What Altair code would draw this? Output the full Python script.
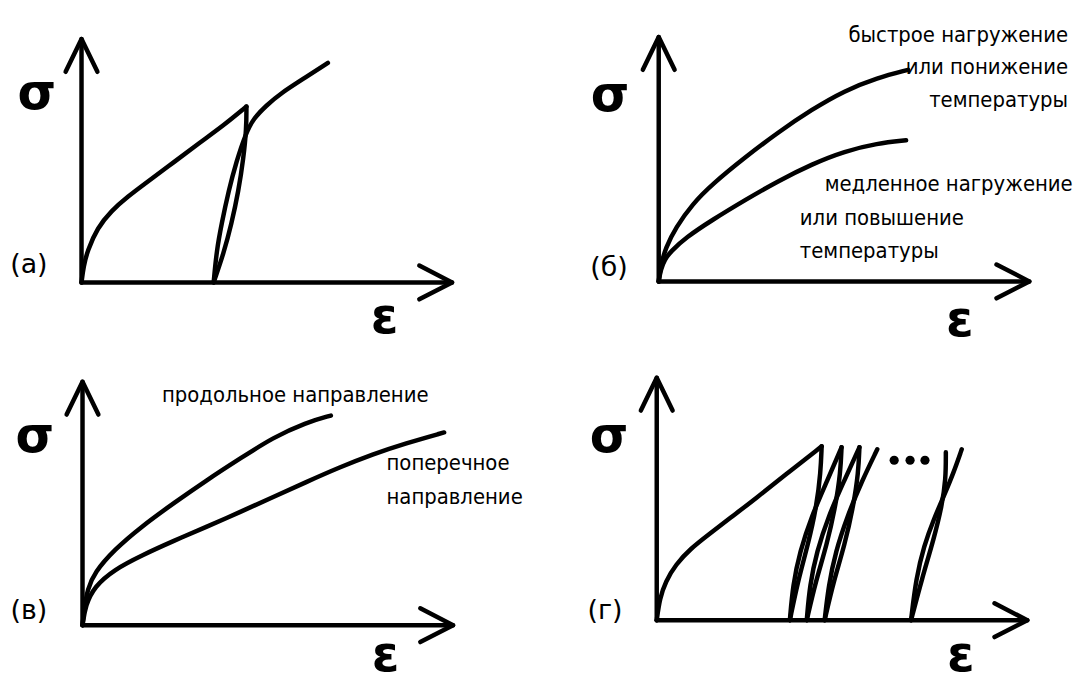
import altair as alt
import pandas as pd

# ------------------------------------------------------------------
# Data: values, in each panel's own (ε, σ) units
# ------------------------------------------------------------------

# panel (а): loading, unloading and reloading
A_EPS_MAX, A_SIG_MAX = 373, 245
A_LOAD_EPS = [0, 2, 6, 16, 30, 46, 66, 93, 118, 143, 166]
A_LOAD_SIG = [0, 16, 32, 55, 72, 86, 101, 121, 140, 158, 177]
A_UNLOAD_EPS = [166, 166, 163, 158, 151, 143, 133]
A_UNLOAD_SIG = [177, 155, 125, 92, 59, 29, 0]
A_RELOAD_EPS = [133, 136, 141, 148, 156, 165, 173, 186, 200, 225, 248]
A_RELOAD_SIG = [0, 32, 59, 92, 122, 149, 165, 178, 190, 206, 221]

# panel (б): fast vs slow loading
B_EPS_MAX, B_SIG_MAX = 373, 246
B_FAST_EPS = [0, 2, 7, 17, 34, 54, 87, 120, 154, 187, 220, 251]
B_FAST_SIG = [0, 16, 34, 54, 78, 98, 125, 150, 173, 192, 205, 213]
B_SLOW_EPS = [0, 2, 6, 12, 27, 54, 87, 120, 154, 187, 220, 249]
B_SLOW_SIG = [0, 12, 22, 30, 44, 62, 82, 101, 118, 131, 139, 142]

# panel (в): longitudinal vs transverse direction
C_EPS_MAX, C_SIG_MAX = 373, 245
C_LONG_EPS = [0, 2, 5, 12, 32, 59, 92, 125, 159, 192, 225, 250]
C_LONG_SIG = [0, 18, 36, 53, 76, 99, 123, 146, 168, 189, 204, 211]
C_TRANS_EPS = [0, 3, 12, 32, 59, 92, 125, 159, 192, 225, 259, 292, 325, 364]
C_TRANS_SIG = [0, 20, 39, 56, 70, 85, 99, 114, 129, 144, 159, 172, 183, 194]

# panel (г): repeated cycling
D_EPS_MAX, D_SIG_MAX = 373, 244
D_LOAD_EPS = [0, 3, 9, 19, 34, 52, 74, 99, 129, 166]
D_LOAD_SIG = [0, 22, 39, 56, 72, 86, 103, 122, 146, 175]
D_UNLOAD1_EPS = [166, 165, 161, 152, 142, 134]
D_UNLOAD1_SIG = [175, 149, 115, 75, 39, 0]
D_RELOAD1_EPS = [134, 137, 144, 156, 171, 186]
D_RELOAD1_SIG = [0, 35, 69, 105, 139, 174]
D_UNLOAD2_EPS = [186, 185, 180, 171, 160, 151]
D_UNLOAD2_SIG = [174, 149, 115, 75, 39, 0]
D_RELOAD2_EPS = [151, 154, 161, 173, 188, 204]
D_RELOAD2_SIG = [0, 35, 69, 105, 139, 174]
D_UNLOAD3_EPS = [204, 203, 198, 189, 178, 169]
D_UNLOAD3_SIG = [174, 149, 115, 75, 39, 0]
D_RELOAD3_EPS = [169, 173, 180, 192, 206, 222]
D_RELOAD3_SIG = [0, 35, 69, 105, 139, 172]
D_UNLOADN_EPS = [291, 291, 287, 279, 267, 256]
D_UNLOADN_SIG = [169, 142, 115, 82, 42, 0]
D_RELOADN_EPS = [256, 261, 269, 279, 289, 299, 307]
D_RELOADN_SIG = [0, 42, 75, 102, 125, 149, 172]
D_DOTS_EPS = [239, 255, 270]
D_DOTS_SIG = [161, 161, 161]

# texts (ε, σ anchor in panel units)
SIGMA, EPSILON = "σ", "ε"
A_TAG, B_TAG, C_TAG, D_TAG = "(а)", "(б)", "(в)", "(г)"
B_FAST_TEXT = ["быстрое нагружение", "или понижение", "температуры"]
B_SLOW_TEXT = ["медленное нагружение", "или повышение", "температуры"]
C_LONG_TEXT = ["продольное направление"]
C_TRANS_TEXT = ["поперечное", "направление"]

# ------------------------------------------------------------------
# Layout / style
# ------------------------------------------------------------------
PANEL_W, PANEL_H = 532, 332
LW = 4.5
INK = "#000000"
SYM_FONT = "DejaVu Sans"
NOTE_FONT = "Liberation Sans Narrow, DejaVu Sans Condensed, sans-serif"
NOTE_SIZE = 22
HEAD_W, HEAD_L = 16, 33


def curve_rows(name, eps, sig):
    return [{"curve": name, "i": k, "eps": e, "sig": s}
            for k, (e, s) in enumerate(zip(eps, sig))]


def axes_rows(eps_max, sig_max):
    rows = []
    rows += curve_rows("yaxis", [0, 0], [0, sig_max])
    rows += curve_rows("yhead", [-HEAD_W, 0, HEAD_W],
                       [sig_max - HEAD_L, sig_max, sig_max - HEAD_L])
    rows += curve_rows("xaxis", [0, eps_max], [0, 0])
    rows += curve_rows("xhead", [eps_max - HEAD_L, eps_max, eps_max - HEAD_L],
                       [HEAD_W + 1, 0, -HEAD_W - 1])
    return rows


def panel(curves, eps_max, sig_max, xdom, ydom, syms, tags, notes_left,
          notes_right, dots=None):
    X = lambda: alt.X("eps:Q", scale=alt.Scale(domain=xdom, nice=False, zero=False), axis=None)
    Y = lambda: alt.Y("sig:Q", scale=alt.Scale(domain=ydom, nice=False, zero=False), axis=None)

    axes = alt.Chart(pd.DataFrame(axes_rows(eps_max, sig_max))).mark_line(
        color=INK, strokeWidth=LW, strokeCap="round", strokeJoin="round"
    ).encode(x=X(), y=Y(), detail="curve:N", order="i:Q")

    crv_rows = []
    for name, e, s in curves:
        crv_rows += curve_rows(name, e, s)
    lines = alt.Chart(pd.DataFrame(crv_rows)).mark_line(
        color=INK, strokeWidth=LW, strokeCap="round", strokeJoin="round",
        interpolate="basis"
    ).encode(x=X(), y=Y(), detail="curve:N", order="i:Q")

    layers = [axes, lines]

    sym_df = pd.DataFrame([{"t": t, "eps": e, "sig": s} for t, e, s in syms])
    layers.append(alt.Chart(sym_df).mark_text(
        font=SYM_FONT, fontWeight="bold", fontSize=50, color=INK,
        align="center", baseline="middle"
    ).encode(x=X(), y=Y(), text="t:N"))

    tag_df = pd.DataFrame([{"t": t, "eps": e, "sig": s} for t, e, s in tags])
    layers.append(alt.Chart(tag_df).mark_text(
        font=SYM_FONT, fontSize=27, color=INK, align="center", baseline="middle"
    ).encode(x=X(), y=Y(), text="t:N"))

    if notes_left:
        nl = pd.DataFrame([{"t": t, "eps": e, "sig": s} for t, e, s in notes_left])
        layers.append(alt.Chart(nl).mark_text(
            font=NOTE_FONT, fontSize=NOTE_SIZE, color=INK, align="left", baseline="middle"
        ).encode(x=X(), y=Y(), text="t:N"))
    if notes_right:
        nr = pd.DataFrame([{"t": t, "eps": e, "sig": s} for t, e, s in notes_right])
        layers.append(alt.Chart(nr).mark_text(
            font=NOTE_FONT, fontSize=NOTE_SIZE, color=INK, align="right", baseline="middle"
        ).encode(x=X(), y=Y(), text="t:N"))
    if dots:
        dd = pd.DataFrame({"eps": dots[0], "sig": dots[1]})
        layers.append(alt.Chart(dd).mark_circle(size=85, color=INK, opacity=1)
                      .encode(x=X(), y=Y()))

    return alt.layer(*layers).properties(width=PANEL_W, height=PANEL_H)


pa = panel(
    [("load", A_LOAD_EPS, A_LOAD_SIG),
     ("unload", A_UNLOAD_EPS, A_UNLOAD_SIG),
     ("reload", A_RELOAD_EPS, A_RELOAD_SIG)],
    A_EPS_MAX, A_SIG_MAX, [-74, 458], [-58, 274],
    syms=[(SIGMA, -45, 190), (EPSILON, 305, -36)],
    tags=[(A_TAG, -53, 17)],
    notes_left=[], notes_right=[],
)

pb = panel(
    [("fast", B_FAST_EPS, B_FAST_SIG),
     ("slow", B_SLOW_EPS, B_SLOW_SIG)],
    B_EPS_MAX, B_SIG_MAX, [-123, 409], [-59, 273],
    syms=[(SIGMA, -49, 187), (EPSILON, 303, -40)],
    tags=[(B_TAG, -50, 13)],
    notes_left=[(B_SLOW_TEXT[0], 167, 98), (B_SLOW_TEXT[1], 142, 64),
                (B_SLOW_TEXT[2], 142, 31)],
    notes_right=[(B_FAST_TEXT[0], 412, 248), (B_FAST_TEXT[1], 412, 216),
                 (B_FAST_TEXT[2], 412, 183)],
)

pc = panel(
    [("long", C_LONG_EPS, C_LONG_SIG),
     ("trans", C_TRANS_EPS, C_TRANS_SIG)],
    C_EPS_MAX, C_SIG_MAX, [-75, 457], [-45, 287],
    syms=[(SIGMA, -48, 189), (EPSILON, 305, -31)],
    tags=[(C_TAG, -54, 14)],
    notes_left=[(C_LONG_TEXT[0], 80, 232), (C_TRANS_TEXT[0], 306, 163),
                (C_TRANS_TEXT[1], 306, 129)],
    notes_right=[],
)

pd_ = panel(
    [("load", D_LOAD_EPS, D_LOAD_SIG),
     ("u1", D_UNLOAD1_EPS, D_UNLOAD1_SIG), ("r1", D_RELOAD1_EPS, D_RELOAD1_SIG),
     ("u2", D_UNLOAD2_EPS, D_UNLOAD2_SIG), ("r2", D_RELOAD2_EPS, D_RELOAD2_SIG),
     ("u3", D_UNLOAD3_EPS, D_UNLOAD3_SIG), ("r3", D_RELOAD3_EPS, D_RELOAD3_SIG),
     ("un", D_UNLOADN_EPS, D_UNLOADN_SIG), ("rn", D_RELOADN_EPS, D_RELOADN_SIG)],
    D_EPS_MAX, D_SIG_MAX, [-121, 411], [-50, 282],
    syms=[(SIGMA, -48, 184), (EPSILON, 306, -36)],
    tags=[(D_TAG, -52, 9)],
    notes_left=[], notes_right=[],
    dots=(D_DOTS_EPS, D_DOTS_SIG),
)

chart = alt.concat(pa, pb, pc, pd_, columns=2, spacing=0, bounds="flush").properties(
    padding=0, background="white"
).configure_view(stroke=None)

chart.save("out.html", embed_options={"renderer": "svg", "actions": False})
